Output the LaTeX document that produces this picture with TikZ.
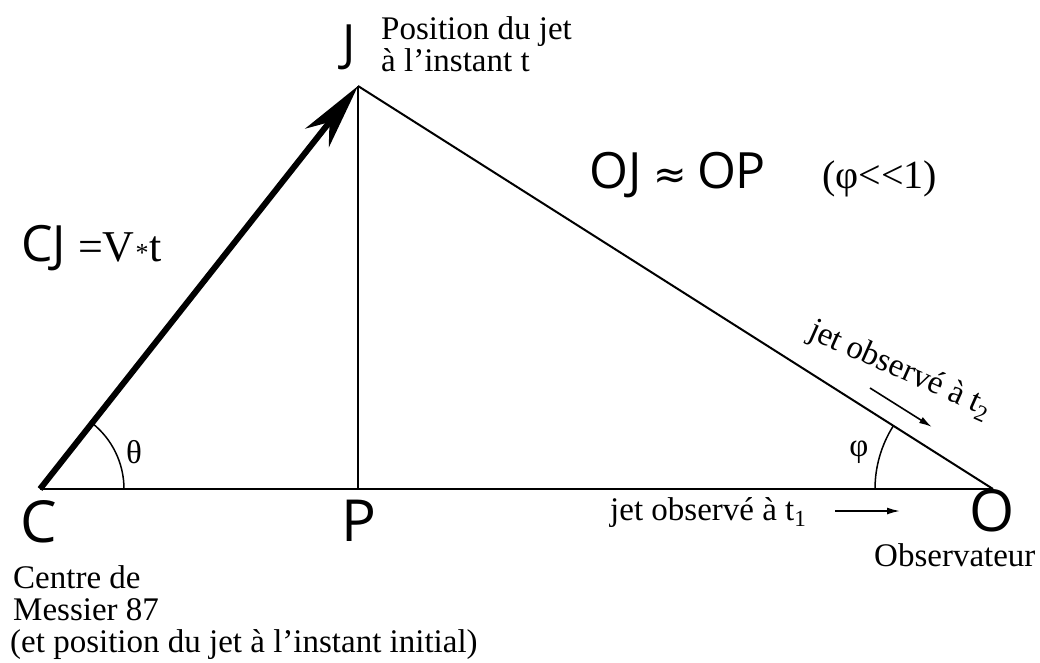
\documentclass[tikz,border=0pt]{standalone}
\usepackage{fontspec}
\setmainfont{Liberation Serif}
\newfontfamily\gsans{Open Sans}
\newfontfamily\dvsans{DejaVu Sans}
\usetikzlibrary{arrows.meta}
\begin{document}
\begin{tikzpicture}[x=1pt,y=-1pt,
  lbl/.style={inner sep=0pt, font=\fontsize{33}{33}\selectfont},
  big/.style={inner sep=0pt, font=\gsans\fontsize{58}{58}\selectfont},
  seg/.style={line width=2pt},
  vec/.style={line width=6pt, -{Stealth[length=66pt,width=30pt,inset=20pt]}},
  small/.style={line width=1.6pt, -{Latex[length=13pt,width=7pt]}},
  arcl/.style={line width=1.5pt}
]
\useasboundingbox (0,0) rectangle (1040,663);
\fill[white] (0,0) rectangle (1040,663);
\coordinate (C) at (40,489);
\coordinate (J) at (358,86);
\coordinate (P) at (358,489);
\coordinate (O) at (993,489);

\draw[seg] (C) -- (O);
\draw[seg] (J) -- (P);
\draw[seg] (J) -- (O);
\draw[vec] (C) -- (J);

\draw[arcl] (C) ++(84,0) arc[start angle=0,end angle=-51.8,radius=84];
\draw[arcl] (O) ++(-118,0) arc[start angle=180,end angle=212.3,radius=118];

\node[big, anchor=base west] (Cl) at (20,542) {C};
\node[big, anchor=base west] (Pl) at (341,541) {P};
\node[big, anchor=base west] (Ol) at (969,531) {O};
\node[big, font=\gsans\fontsize{50}{50}\selectfont, anchor=base west] (Jl) at (342,61) {J};

\node[lbl, anchor=base west] (pos1) at (381,40) {Position du jet};
\node[lbl, anchor=base west] (pos2) at (381,72) {à l’instant t};

\node[anchor=base west, inner sep=0pt] (cj) at (21,261) {{\gsans\fontsize{50}{50}\selectfont CJ}{\fontsize{44}{44}\selectfont\hspace{12pt}=V\hspace{1pt}{\fontsize{26}{26}\selectfont *}\hspace{1pt}t}};

\node[lbl] (th) at (134,452) {θ};
\node[lbl] (ph) at (859,452) {φ};

\node[anchor=base west, inner sep=0pt] (eq) at (589,189) {\gsans\fontsize{50}{50}\selectfont OJ\hspace{12pt}{\dvsans\fontsize{40}{40}\selectfont ≈}\hspace{10pt}OP};
\node[anchor=base west, inner sep=0pt, font=\fontsize{40}{40}\selectfont] (cond) at (822,189) {(φ<{}<1)};

\node[lbl, anchor=base west] (t1) at (610,520) {jet observé à t\textsubscript{1}};
\coordinate (a1s) at (835,511);
\coordinate (a1e) at (900,511);
\draw[small] (a1s) -- (a1e);

\node[lbl, rotate=-24] (t2) at (900,370) {jet observé à t\textsubscript{2}};
\coordinate (a2s) at (870,388);
\coordinate (a2e) at (932,427);
\draw[small] (a2s) -- (a2e);

\node[lbl, anchor=base west] (obs) at (874,566) {Observateur};

\node[lbl, anchor=base west] (m1) at (13,588) {Centre de};
\node[lbl, anchor=base west] (m2) at (13,620) {Messier 87};
\node[lbl, anchor=base west] (m3) at (10,652) {(et position du jet à l’instant initial)};
\end{tikzpicture}
\end{document}
